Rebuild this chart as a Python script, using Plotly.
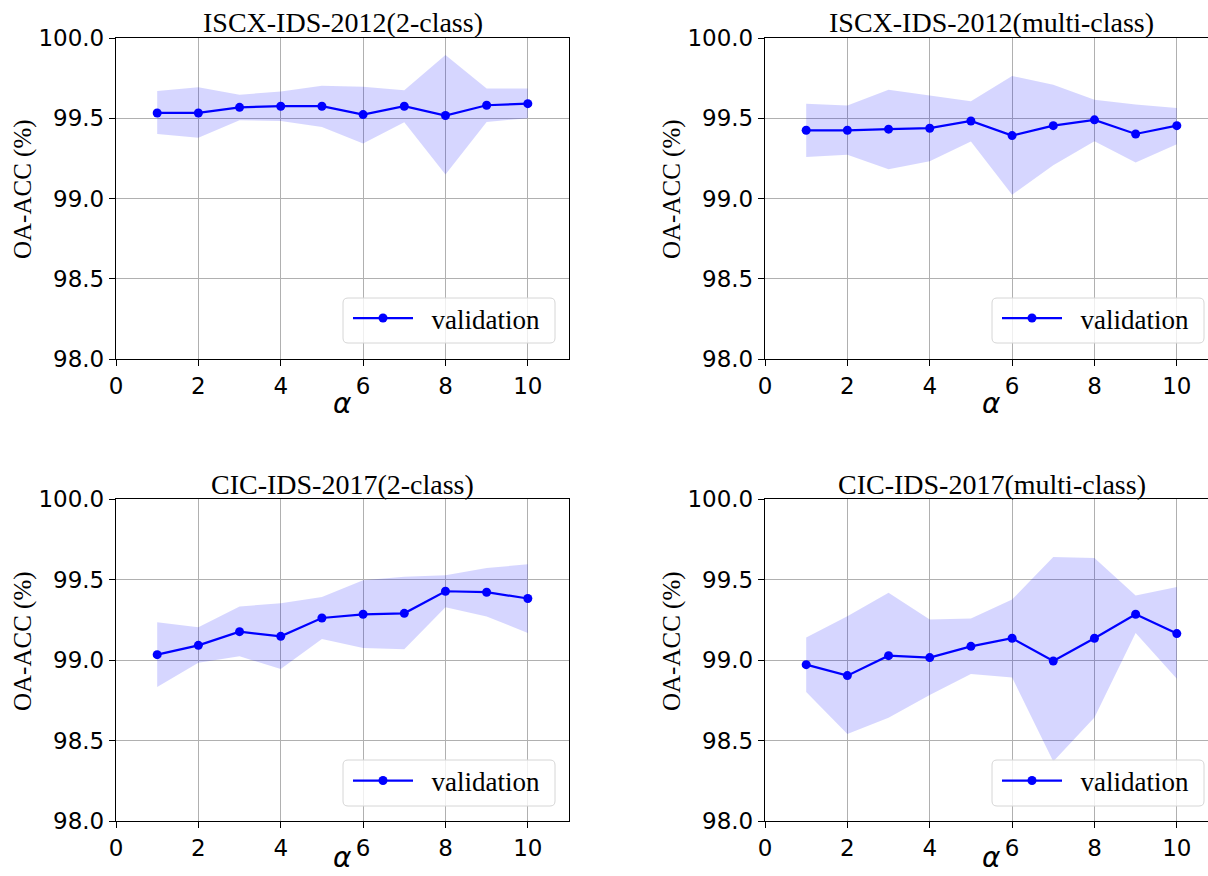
import plotly.graph_objects as go

alpha = [1, 2, 3, 4, 5, 6, 7, 8, 9, 10]

titles = ["ISCX-IDS-2012(2-class)", "ISCX-IDS-2012(multi-class)",
          "CIC-IDS-2017(2-class)", "CIC-IDS-2017(multi-class)"]

iscx2_mean = [99.533, 99.533, 99.568, 99.575, 99.575, 99.523, 99.575, 99.517, 99.581, 99.591]
iscx2_upper = [99.670, 99.693, 99.647, 99.666, 99.703, 99.697, 99.674, 99.894, 99.685, 99.685]
iscx2_lower = [99.402, 99.378, 99.488, 99.483, 99.446, 99.342, 99.475, 99.149, 99.477, 99.500]

iscxm_mean = [99.425, 99.425, 99.432, 99.438, 99.483, 99.392, 99.454, 99.490, 99.402, 99.454]
iscxm_upper = [99.591, 99.579, 99.678, 99.643, 99.606, 99.763, 99.709, 99.616, 99.585, 99.564]
iscxm_lower = [99.259, 99.272, 99.183, 99.232, 99.355, 99.023, 99.207, 99.357, 99.224, 99.338]

cic2_mean = [99.033, 99.091, 99.176, 99.147, 99.261, 99.284, 99.290, 99.427, 99.421, 99.382]
cic2_upper = [99.234, 99.203, 99.332, 99.353, 99.392, 99.496, 99.517, 99.527, 99.571, 99.595]
cic2_lower = [98.832, 98.983, 99.023, 98.944, 99.131, 99.075, 99.066, 99.328, 99.270, 99.168]

cicm_mean = [98.971, 98.903, 99.027, 99.015, 99.085, 99.135, 98.994, 99.135, 99.284, 99.164]
cicm_upper = [99.139, 99.272, 99.417, 99.251, 99.257, 99.376, 99.639, 99.633, 99.400, 99.454]
cicm_lower = [98.801, 98.541, 98.641, 98.782, 98.913, 98.892, 98.369, 98.643, 99.168, 98.884]

y_ticks = [98.0, 98.5, 99.0, 99.5, 100.0]
x_ticks = [0, 2, 4, 6, 8, 10]

series = [
    (iscx2_mean, iscx2_upper, iscx2_lower),
    (iscxm_mean, iscxm_upper, iscxm_lower),
    (cic2_mean, cic2_upper, cic2_lower),
    (cicm_mean, cicm_upper, cicm_lower),
]

W, H = 1208, 876
# panel pixel boxes: (left, right, top, bottom)
boxes = [(116, 569, 38, 359), (765, 1208, 38, 359),
         (116, 569, 499, 821), (765, 1208, 499, 821)]
unit = (569 - 116) / 11.0
# legend boxes (left, right, top, bottom) in px
leg_boxes = [(343, 555, 298, 343), (992, 1204, 298, 343),
             (343, 555, 760, 806), (992, 1204, 760, 806)]
title_y = [22, 22, 485, 485]
ylab_y = [189, 189, 641, 641]

SERIF = "Liberation Serif, Times New Roman, serif"
SANS = "DejaVu Sans, sans-serif"


def px(x):
    return x / W


def py(y):
    return 1 - y / H


def rounded_rect(l, r, t, b, rad=5):
    x0, x1, y0, y1 = px(l), px(r), py(b), py(t)
    rx, ry = rad / W, rad / H
    return (f"M {x0 + rx},{y0} L {x1 - rx},{y0} Q {x1},{y0} {x1},{y0 + ry} "
            f"L {x1},{y1 - ry} Q {x1},{y1} {x1 - rx},{y1} "
            f"L {x0 + rx},{y1} Q {x0},{y1} {x0},{y1 - ry} "
            f"L {x0},{y0 + ry} Q {x0},{y0} {x0 + rx},{y0} Z")


fig = go.Figure()
annotations = []
shapes = []
for i, ((mean, up, lo), (l, r, t, b)) in enumerate(zip(series, boxes)):
    k = "" if i == 0 else str(i + 1)
    xa, ya = "x" + k, "y" + k
    leg = "legend" + k
    fig.add_trace(go.Scatter(x=alpha, y=up, mode="lines", line=dict(width=0),
                             showlegend=False, hoverinfo="skip", xaxis=xa, yaxis=ya))
    fig.add_trace(go.Scatter(x=alpha, y=lo, mode="lines", line=dict(width=0),
                             fill="tonexty", fillcolor="rgba(0,0,255,0.16)",
                             showlegend=False, hoverinfo="skip", xaxis=xa, yaxis=ya))
    fig.add_trace(go.Scatter(x=alpha, y=mean, mode="lines+markers",
                             name="\u00a0\u00a0validation",
                             line=dict(color="#0000ff", width=2.2),
                             marker=dict(color="#0000ff", size=9),
                             xaxis=xa, yaxis=ya, legend=leg))
    xmax = (r - l) / unit
    right_clipped = r >= W
    axcommon = dict(showline=True, linecolor="black", linewidth=1.3,
                    ticks="outside", ticklen=6, tickcolor="black",
                    showgrid=True, gridcolor="#b0b0b0", gridwidth=1,
                    zeroline=False, automargin=False,
                    tickfont=dict(family=SANS, size=23, color="black"))
    fig.layout["xaxis" + k] = dict(domain=[px(l), px(r)], range=[0, xmax],
                                   tickvals=x_ticks, anchor=ya, mirror=True, **axcommon)
    fig.layout["yaxis" + k] = dict(domain=[py(b), py(t)], range=[98.0, 100.0],
                                   tickvals=y_ticks, tickformat=".1f", anchor=xa,
                                   mirror=(not right_clipped), **axcommon)
    lb = leg_boxes[i]
    shapes.append(dict(type="path", path=rounded_rect(*lb), xref="paper", yref="paper",
                       fillcolor="rgba(255,255,255,0.8)",
                       line=dict(color="#d6d6d6", width=1), layer="above"))
    fig.layout[leg] = dict(x=px(lb[0] + 5), y=py((lb[2] + lb[3]) / 2 - 2),
                           xanchor="left", yanchor="middle",
                           bgcolor="rgba(0,0,0,0)", borderwidth=0,
                           font=dict(family=SERIF, size=27, color="black"),
                           itemwidth=60)
    cx = (l + (l + 11 * unit)) / 2
    annotations.append(dict(text=titles[i], x=px(cx), y=py(title_y[i]),
                            xref="paper", yref="paper", showarrow=False,
                            xanchor="center", yanchor="middle",
                            font=dict(family=SERIF, size=28, color="black")))
    if b + 45 + 18 > H:
        a_y, a_anchor = 0.0, "bottom"
    else:
        a_y, a_anchor = py(b + 45), "middle"
    annotations.append(dict(text="<i>α</i>", x=px(cx), y=a_y,
                            xref="paper", yref="paper", showarrow=False,
                            xanchor="center", yanchor=a_anchor,
                            font=dict(family=SANS, size=28, color="black")))
    annotations.append(dict(text="OA-ACC (%)", x=px(l - 93), y=py(ylab_y[i]),
                            xref="paper", yref="paper", showarrow=False, textangle=-90,
                            xanchor="center", yanchor="middle",
                            font=dict(family=SERIF, size=25, color="black")))

fig.update_layout(width=W, height=H,
                  margin=dict(l=0, r=0, t=0, b=0, autoexpand=False),
                  paper_bgcolor="white", plot_bgcolor="white",
                  annotations=annotations, shapes=shapes)

fig.write_html("out.html", config={"displayModeBar": False},
               post_script="document.body.style.margin='0px';")
